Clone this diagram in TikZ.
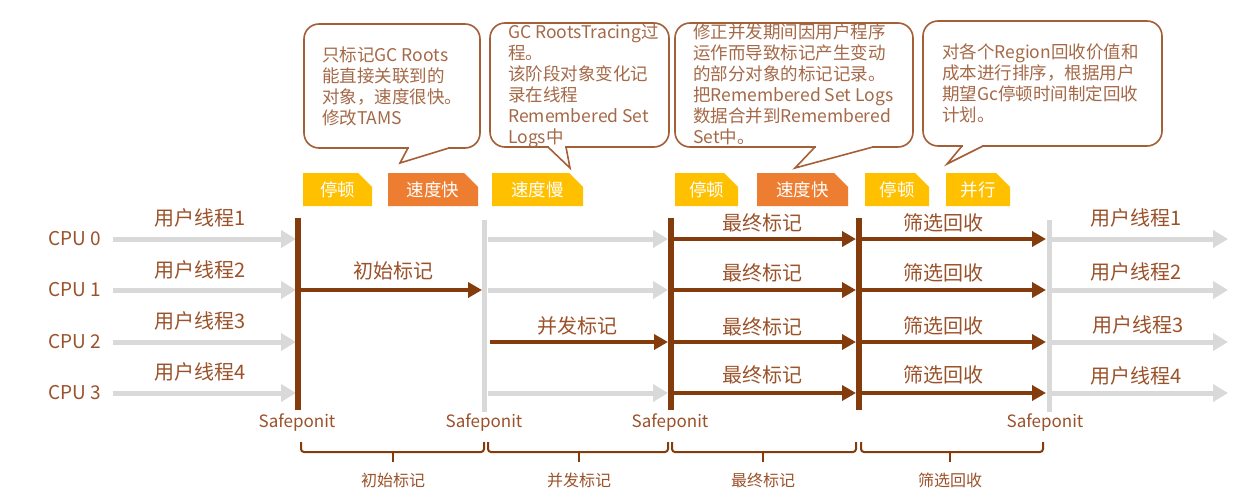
\documentclass[tikz,border=0pt]{standalone}
\usepackage{fontspec}
\setmainfont{Noto Sans CJK SC}
\usetikzlibrary{arrows.meta,shapes.misc}
\definecolor{dbrown}{RGB}{132,60,12}
\definecolor{tbrown}{RGB}{155,82,42}
\definecolor{cbrown}{RGB}{165,105,72}
\definecolor{obrown}{RGB}{165,95,55}
\definecolor{lgray}{RGB}{217,217,217}
\definecolor{tyellow}{RGB}{255,192,0}
\definecolor{torange}{RGB}{237,125,49}
\begin{document}
\begin{tikzpicture}[x=1pt,y=-1pt,
 bar/.style={line width=5.5pt, draw=dbrown},
 gbar/.style={line width=5pt, draw=lgray},
 garr/.style={line width=5pt, draw=lgray, fill=lgray, -{Triangle[length=15pt,width=17pt]}},
 barr/.style={line width=4pt, draw=dbrown, fill=dbrown, -{Triangle[length=14pt,width=15pt]}},
 lbl/.style={text=tbrown, font=\fontsize{20}{24}\selectfont, inner sep=0pt},
 cpu/.style={text=tbrown, font=\fontsize{19}{23}\selectfont, inner sep=0pt},
 sp/.style={text=tbrown, font=\fontsize{17}{20}\selectfont, inner sep=0pt},
 blbl/.style={text=tbrown, font=\fontsize{16}{19}\selectfont, inner sep=0pt},
 ctext/.style={text=cbrown, font=\fontsize{17.5}{21}\selectfont, align=left, anchor=north west, inner sep=0pt},
 callout/.style={draw=obrown, line width=1.6pt, rounded corners=15pt},
 ptr/.style={draw=obrown, line width=1.6pt, line join=miter},
 brace/.style={draw=dbrown, line width=2pt, rounded corners=3pt},
 tagbox/.style={chamfered rectangle, chamfered rectangle corners=north east, chamfered rectangle xsep=7pt, chamfered rectangle ysep=7pt, minimum height=33pt, inner sep=0pt, text=white, font=\fontsize{17.5}{20}\selectfont},
]
\fill[white] (0,0) rectangle (1235,498);
\useasboundingbox (0,0) rectangle (1235,498);

% ---------- callouts ----------
\draw[callout] (304,24) rectangle (480,148);
\fill[white] (409,145.5) rectangle (448,150.5);
\coordinate (c1a) at (408,148); \coordinate (c1b) at (449,148); \coordinate (c1tip) at (400,163);
\draw[ptr] (c1a) -- (c1tip) -- (c1b);
\node[ctext] (c1) at (322,46.5) {只标记GC Roots\\能直接关联到的\\对象，速度很快。\\修改TAMS};

\draw[callout] (490,23) rectangle (669,147);
\fill[white] (549,144.5) rectangle (565,149.5);
\coordinate (c2a) at (548,147); \coordinate (c2b) at (566,147); \coordinate (c2tip) at (570,168);
\draw[ptr] (c2a) -- (c2tip) -- (c2b);
\node[ctext] (c2) at (508,23.5) {GC RootsTracing过\\程。\\该阶段对象变化记\\录在线程\\Remembered Set\\Logs中};

\draw[callout] (675,23) rectangle (913,147);
\fill[white] (816,144.5) rectangle (872,149.5);
\coordinate (c3a) at (815,147); \coordinate (c3b) at (873,147); \coordinate (c3tip) at (795,168);
\draw[ptr] (c3a) -- (c3tip) -- (c3b);
\node[ctext] (c3) at (693,23.5) {修正并发期间因用户程序\\运作而导致标记产生变动\\的部分对象的标记记录。\\把Remembered Set Logs\\数据合并到Remembered\\Set中。};

\draw[callout] (923,21) rectangle (1162,146);
\fill[white] (963,143.5) rectangle (982,148.5);
\coordinate (c4a) at (962,146); \coordinate (c4b) at (983,146); \coordinate (c4tip) at (947,164);
\draw[ptr] (c4a) -- (c4tip) -- (c4b);
\node[ctext] (c4) at (942,43.5) {对各个Region回收价值和\\成本进行排序，根据用户\\期望Gc停顿时间制定回收\\计划。};

% ---------- tags ----------
\node[tagbox, fill=tyellow, minimum width=69pt] (t1) at (337.5,189.5) {停顿};
\node[tagbox, fill=torange, minimum width=90pt] (t2) at (433,189.5) {速度快};
\node[tagbox, fill=tyellow, minimum width=91pt] (t3) at (537.5,189.5) {速度慢};
\node[tagbox, fill=tyellow, minimum width=63pt] (t4) at (706.5,189.5) {停顿};
\node[tagbox, fill=torange, minimum width=91pt] (t5) at (802.5,189.5) {速度快};
\node[tagbox, fill=tyellow, minimum width=64pt] (t6) at (897,189.5) {停顿};
\node[tagbox, fill=tyellow, minimum width=64pt] (t7) at (978,189.5) {并行};

% ---------- safepoint bars ----------
\coordinate (B1t) at (298,218); \coordinate (B1b) at (298,410);
\coordinate (B2t) at (484,220); \coordinate (B2b) at (484,412);
\coordinate (B3t) at (671,218); \coordinate (B3b) at (671,410);
\coordinate (B4t) at (859,218); \coordinate (B4b) at (859,410);
\coordinate (B5t) at (1049,220); \coordinate (B5b) at (1049,412);
\draw[gbar] (B2t) -- (B2b);
\draw[gbar] (B5t) -- (B5b);

% ---------- rows ----------
\foreach \i/\y in {0/239,1/290,2/342,3/393}{
  \coordinate (r\i a) at (113,\y);  \coordinate (r\i b) at (296,\y);
  \coordinate (r\i c) at (488,\y);  \coordinate (r\i d) at (668,\y);
  \coordinate (r\i e) at (673,\y);  \coordinate (r\i f) at (856,\y);
  \coordinate (r\i g) at (861,\y);  \coordinate (r\i h) at (1046,\y);
  \coordinate (r\i i) at (1052,\y); \coordinate (r\i j) at (1228,\y);
  \draw[garr] (r\i a) -- (r\i b);
  \draw[barr] (r\i e) -- (r\i f);
  \draw[barr] (r\i g) -- (r\i h);
  \draw[garr] (r\i i) -- (r\i j);
}
\draw[garr] (r0c) -- (r0d);
\draw[garr] (r1c) -- (r1d);
\draw[garr] (r3c) -- (r3d);
\coordinate (m1a) at (301,290); \coordinate (m1b) at (482,290);
\draw[barr] (m1a) -- (m1b);
\coordinate (m2a) at (490,342);
\draw[barr] (m2a) -- (r2d);

\draw[bar] (B1t) -- (B1b);
\draw[bar] (B3t) -- (B3b);
\draw[bar] (B4t) -- (B4b);

% ---------- labels ----------
\node[cpu] (cpu0) at (75,239) {CPU 0};
\node[cpu] (cpu1) at (75,290) {CPU 1};
\node[cpu] (cpu2) at (75,342) {CPU 2};
\node[cpu] (cpu3) at (75,393) {CPU 3};

\node[lbl] (u1) at (200,218) {用户线程1};
\node[lbl] (u2) at (200,270) {用户线程2};
\node[lbl] (u3) at (200,321) {用户线程3};
\node[lbl] (u4) at (200,372) {用户线程4};

\node[lbl] (init) at (393,271) {初始标记};
\node[lbl] (conc) at (577,326) {并发标记};

\node[lbl] (f1) at (762,223) {最终标记};
\node[lbl] (f2) at (762,273) {最终标记};
\node[lbl] (f3) at (762,327) {最终标记};
\node[lbl] (f4) at (762,375) {最终标记};

\node[lbl] (s1) at (943,223) {筛选回收};
\node[lbl] (s2) at (943,273) {筛选回收};
\node[lbl] (s3) at (943,326) {筛选回收};
\node[lbl] (s4) at (943,375) {筛选回收};

\node[lbl] (v1) at (1136,218) {用户线程1};
\node[lbl] (v2) at (1136,272) {用户线程2};
\node[lbl] (v3) at (1138,325) {用户线程3};
\node[lbl] (v4) at (1136,376) {用户线程4};

\node[sp] (sp1) at (297,423) {Safeponit};
\node[sp] (sp2) at (484,423) {Safeponit};
\node[sp] (sp3) at (670,423) {Safeponit};
\node[sp] (sp4) at (1045,423) {Safeponit};

% ---------- braces ----------
\draw[brace] (301,442) -- (301,452) -- (484,452) -- (484,442);
\draw[brace] (393,451) -- (393,462);
\draw[brace] (488,442) -- (488,452) -- (668,452) -- (668,442);
\draw[brace] (579,451) -- (579,462);
\draw[brace] (672,442) -- (672,452) -- (856,452) -- (856,442);
\draw[brace] (763,451) -- (763,462);
\draw[brace] (861,442) -- (861,452) -- (1043,452) -- (1043,442);
\draw[brace] (950,451) -- (950,462);

\node[blbl] (bl1) at (393,480) {初始标记};
\node[blbl] (bl2) at (579,480) {并发标记};
\node[blbl] (bl3) at (763,480) {最终标记};
\node[blbl] (bl4) at (950,480) {筛选回收};
\end{tikzpicture}
\end{document}
